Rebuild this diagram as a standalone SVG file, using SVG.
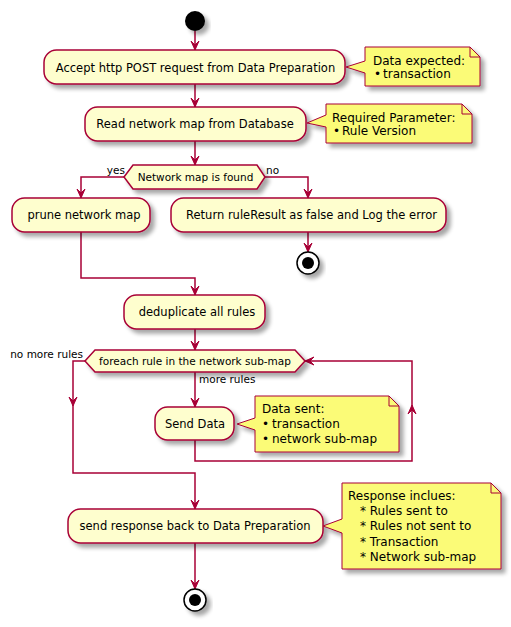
<svg xmlns="http://www.w3.org/2000/svg" width="511" height="627" viewBox="0 0 511 627">
<defs>
<filter id="sh" x="-20%" y="-20%" width="150%" height="160%">
<feGaussianBlur in="SourceAlpha" stdDeviation="2"/>
<feOffset dx="4" dy="4" result="b"/>
<feComponentTransfer in="b" result="c"><feFuncA type="linear" slope="0.35"/></feComponentTransfer>
<feMerge><feMergeNode in="c"/><feMergeNode in="SourceGraphic"/></feMerge>
</filter>
<path id="ah" d="M-4,-9 L0,0 L4,-9 L0,-5 Z" fill="#A80036" stroke="#A80036" stroke-width="1"/>
</defs>
<style>
.act{fill:#FEFECE;stroke:#A80036;stroke-width:1.5;filter:url(#sh)}
.note{fill:#FBFB77;stroke:#A80036;stroke-width:1;filter:url(#sh)}
.fold{fill:none;stroke:#A80036;stroke-width:1}
.t{font-family:"DejaVu Sans",sans-serif;font-size:11.5px;fill:#000;text-anchor:middle}
.s{font-family:"DejaVu Sans",sans-serif;font-size:10.5px;fill:#000}
.n{font-family:"DejaVu Sans",sans-serif;font-size:12px;fill:#000}
.ln{fill:none;stroke:#A80036;stroke-width:1.5}
</style>

<g id="connectors">
<polyline class="ln" points="195,31 195,50"/><use href="#ah" x="195" y="50"/>
<polyline class="ln" points="195,84 195,107"/><use href="#ah" x="195" y="107"/>
<polyline class="ln" points="195,141 195,165"/><use href="#ah" x="195" y="165"/>
<polyline class="ln" points="124,177 81,177 81,198"/><use href="#ah" x="81" y="198"/>
<polyline class="ln" points="265,177 308,177 308,198"/><use href="#ah" x="308" y="198"/>
<polyline class="ln" points="308,232 308,252"/><use href="#ah" x="308" y="252"/>
<polyline class="ln" points="81,232 81,278 195,278 195,295"/><use href="#ah" x="195" y="295"/>
<polyline class="ln" points="195,329 195,350"/><use href="#ah" x="195" y="350"/>
<polyline class="ln" points="195,372 195,407"/><use href="#ah" x="195" y="407"/>
<polyline class="ln" points="195,440 195,461 412,461 412,361 305,361"/>
<use href="#ah" transform="translate(412,405) rotate(180)"/>
<use href="#ah" transform="translate(305,361) rotate(90)"/>
<polyline class="ln" points="85,361 73,361 73,473 195,473 195,509"/>
<use href="#ah" x="73" y="406"/>
<use href="#ah" x="195" y="509"/>
<polyline class="ln" points="195,543 195,589"/><use href="#ah" x="195" y="589"/>
<text class="s" x="125" y="174" text-anchor="end">yes</text>
<text class="s" x="266" y="174">no</text>
<text class="s" x="83" y="358" text-anchor="end">no more rules</text>
<text class="s" x="199" y="383">more rules</text>
</g>

<g id="start"><circle cx="195" cy="21" r="10" fill="#000" filter="url(#sh)"/></g>

<g id="accept">
<rect class="act" x="44" y="50" width="301" height="34" rx="12.5"/>
<text class="t" x="195.5" y="72">Accept http POST request from Data Preparation</text>
</g>
<g id="note1">
<path class="note" d="M365,47 L470,47 L480,57 L480,86 L365,86 L365,73 L346,67 L365,61 Z"/>
<path class="fold" d="M470,47 L470,57 L480,57"/>
<text class="n" x="373" y="65">Data expected:</text>
<text class="n" y="78"><tspan x="374">•</tspan><tspan x="383">transaction</tspan></text>
</g>

<g id="read">
<rect class="act" x="85" y="107" width="221" height="34" rx="12.5"/>
<text class="t" x="195" y="128">Read network map from Database</text>
</g>
<g id="note2">
<path class="note" d="M326,104 L462,104 L472,114 L472,143 L326,143 L326,127 L307,123 L326,115 Z"/>
<path class="fold" d="M462,104 L462,114 L472,114"/>
<text class="n" x="332" y="122">Required Parameter:</text>
<text class="n" y="135"><tspan x="333">•</tspan><tspan x="342">Rule Version</tspan></text>
</g>

<g id="found">
<polygon class="act" points="124,177 133,165 257,165 265,177 257,189 133,189"/>
<text class="s" x="195.5" y="181" text-anchor="middle">Network map is found</text>
</g>

<g id="prune">
<rect class="act" x="12" y="198" width="138" height="34" rx="12.5"/>
<text class="t" x="84" y="219">prune network map</text>
</g>

<g id="returnerr">
<rect class="act" x="171" y="198" width="275" height="34" rx="12.5"/>
<text class="t" x="311.5" y="219">Return ruleResult as false and Log the error</text>
</g>

<g id="stop1">
<circle cx="308" cy="263" r="11" fill="#fff" stroke="#000" stroke-width="1.5" filter="url(#sh)"/>
<circle cx="308" cy="263" r="6" fill="#000"/>
</g>

<g id="dedup">
<rect class="act" x="124" y="295" width="141" height="34" rx="12.5"/>
<text class="t" x="197" y="316">deduplicate all rules</text>
</g>

<g id="foreach">
<polygon class="act" points="85,361 95,350 295,350 305,361 295,372 95,372"/>
<text class="s" x="195" y="365" text-anchor="middle">foreach rule in the network sub-map</text>
</g>

<g id="send">
<rect class="act" x="155" y="407" width="79" height="33" rx="12.5"/>
<text class="t" x="195" y="428">Send Data</text>
</g>
<g id="note3">
<path class="note" d="M255,396 L389,396 L399,406 L399,452 L255,452 L255,430 L237,424 L255,418 Z"/>
<path class="fold" d="M389,396 L389,406 L399,406"/>
<text class="n" x="262" y="413">Data sent:</text>
<text class="n" y="428"><tspan x="262">•</tspan><tspan x="272">transaction</tspan></text>
<text class="n" y="443"><tspan x="262">•</tspan><tspan x="272">network sub-map</tspan></text>
</g>

<g id="respond">
<rect class="act" x="68" y="509" width="255" height="34" rx="12.5"/>
<text class="t" x="195" y="530">send response back to Data Preparation</text>
</g>
<g id="note4">
<path class="note" d="M342,483 L491,483 L501,493 L501,569 L342,569 L342,533 L323,526 L342,519 Z"/>
<path class="fold" d="M491,483 L491,493 L501,493"/>
<text class="n" x="348" y="500">Response inclues:</text>
<text class="n" x="360" y="515">* Rules sent to</text>
<text class="n" x="360" y="530">* Rules not sent to</text>
<text class="n" x="360" y="546">* Transaction</text>
<text class="n" x="360" y="561">* Network sub-map</text>
</g>

<g id="stop2">
<circle cx="195" cy="600" r="11" fill="#fff" stroke="#000" stroke-width="1.5" filter="url(#sh)"/>
<circle cx="195" cy="600" r="6" fill="#000"/>
</g>
</svg>
